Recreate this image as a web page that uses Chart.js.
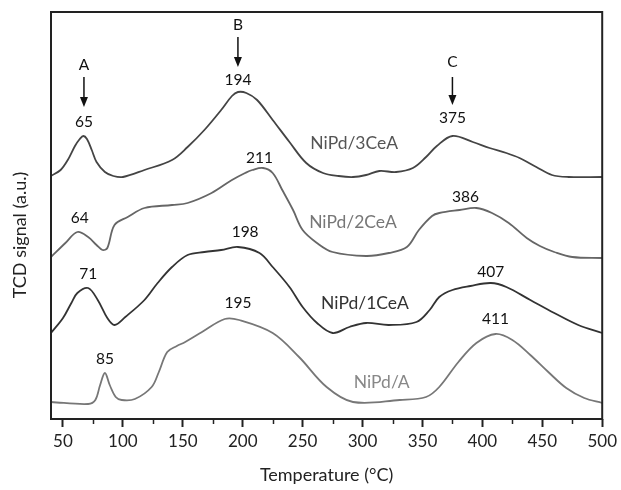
<!DOCTYPE html>
<html>
<head>
<meta charset="utf-8">
<script src="https://cdn.jsdelivr.net/npm/chart.js@4.4.1/dist/chart.umd.min.js"></script>
<style>
  html, body { margin: 0; padding: 0; background: #fff; }
</style>
</head>
<body>
<canvas id="tprChart" width="621" height="490"></canvas>
<script>
// TPR profiles, signal (arbitrary units, curves already offset)
const temp3CeA = [40, 48, 54, 60, 64, 67, 70, 74, 78, 85, 92, 100, 118, 141, 154, 168, 182, 191, 196, 203, 212, 225, 239, 253, 267, 280, 292, 303, 314, 328, 342, 353, 362, 375, 392, 406, 420, 431, 445, 458, 472, 500];
const tcd3CeA  = [243, 249, 259, 273, 280, 283, 280, 269, 257, 247, 243, 242, 249, 259, 272, 289, 309, 323, 327, 326, 319, 299, 277, 256, 246, 243, 242, 244, 248, 247, 251, 262, 273, 283, 277, 271, 266, 261, 252, 244, 242, 242];

const temp2CeA = [40, 52, 62, 71, 78, 83, 87, 93, 104, 118, 141, 154, 174, 191, 202, 208, 217, 225, 233, 242, 250, 262, 275, 303, 322, 337, 347, 358, 364, 381, 395, 408, 422, 437, 448, 460, 475, 500];
const tcd2CeA  = [162, 176, 187, 182, 174, 169, 171, 194, 202, 211, 214, 216, 226, 239, 246, 249, 251, 246, 229, 209, 189, 176, 167, 163, 166, 172, 189, 203, 206, 209, 211, 206, 196, 181, 173, 167, 162, 161];

const temp1CeA = [40, 50, 57, 62, 71, 79, 87, 93, 102, 118, 129, 141, 154, 168, 182, 196, 214, 225, 239, 250, 262, 275, 289, 303, 322, 345, 356, 364, 375, 390, 407, 420, 440, 460, 480, 500];
const tcd1CeA  = [86, 101, 116, 126, 131, 119, 101, 94, 102, 119, 136, 152, 164, 167, 169, 172, 166, 152, 132, 112, 96, 86, 92, 96, 94, 97, 109, 122, 129, 133, 136, 132, 119, 106, 94, 86];

const tempA = [40, 71, 77, 81, 85, 89, 94, 99, 110, 124, 130, 137, 145, 152, 166, 185, 197, 225, 247, 270, 292, 331, 353, 364, 380, 395, 411, 425, 440, 455, 470, 485, 500];
const tcdA  = [17, 15, 19, 34, 46, 34, 22, 19, 20, 32, 47, 67, 73, 77, 87, 100, 99, 86, 62, 32, 17, 19, 22, 32, 57, 76, 85, 79, 64, 47, 31, 21, 16];

const seriesNames = ['NiPd/3CeA', 'NiPd/2CeA', 'NiPd/1CeA', 'NiPd/A'];
const peakTexts = ['65', '194', '375', '64', '211', '386', '71', '198', '407', '85', '195', '411'];
const regionNames = ['A', 'B', 'C'];

const xTicks = [50, 100, 150, 200, 250, 300, 350, 400, 450, 500];
const xMinorTicks = [75, 125, 175, 225, 275, 325, 375, 425, 475];

const FONT = 'Lato, "Open Sans", sans-serif';

function toPoints(temps, vals) {
    return temps.map((t, i) => ({ x: t, y: vals[i] }));
}

// where the annotation texts sit, in data units (temperature, signal)
const peakPos = [
    [67.5, 297], [196, 339], [375, 301],
    [64, 201], [214, 261], [386, 222],
    [71, 145], [202, 187], [407, 147],
    [85, 60], [196, 116], [411, 100]
];
const namePos = [[293, 276], [292, 197], [302, 116], [316, 37]];
const nameColors = ['#555', '#777', '#333', '#888'];
const arrowPos = [
    { t: 67.5, letter: 354, from: 342, to: 312 },
    { t: 196, letter: 394, from: 382, to: 352 },
    { t: 375, letter: 357, from: 342, to: 314 }
];

const annotate = {
    id: 'annotate',
    afterDraw(chart) {
        const { ctx, chartArea: a, scales: { x, y } } = chart;
        ctx.save();

        // frame
        ctx.strokeStyle = '#222';
        ctx.lineWidth = 2;
        ctx.strokeRect(a.left, a.top, a.right - a.left, a.bottom - a.top);

        // minor ticks
        ctx.lineWidth = 1.5;
        xMinorTicks.forEach(v => {
            const px = Math.round(x.getPixelForValue(v)) + 0.5;
            ctx.beginPath();
            ctx.moveTo(px, a.bottom);
            ctx.lineTo(px, a.bottom + 5);
            ctx.stroke();
        });

        ctx.textAlign = 'center';
        ctx.textBaseline = 'middle';

        // peak temperatures
        ctx.fillStyle = '#111';
        ctx.font = '15.5px ' + FONT;
        peakTexts.forEach((txt, i) => {
            ctx.fillText(txt, x.getPixelForValue(peakPos[i][0]), y.getPixelForValue(peakPos[i][1]));
        });

        // sample names
        ctx.font = '17.5px ' + FONT;
        seriesNames.forEach((name, i) => {
            ctx.fillStyle = nameColors[i];
            ctx.fillText(name, x.getPixelForValue(namePos[i][0]), y.getPixelForValue(namePos[i][1]));
        });

        // region arrows A, B, C
        ctx.fillStyle = '#111';
        ctx.strokeStyle = '#111';
        ctx.font = '15.5px ' + FONT;
        arrowPos.forEach((ar, i) => {
            const px = x.getPixelForValue(ar.t);
            ctx.fillText(regionNames[i], px, y.getPixelForValue(ar.letter));
            const y0 = y.getPixelForValue(ar.from);
            const y1 = y.getPixelForValue(ar.to);
            ctx.lineWidth = 1.5;
            ctx.beginPath();
            ctx.moveTo(px, y0);
            ctx.lineTo(px, y1 - 8);
            ctx.stroke();
            ctx.beginPath();
            ctx.moveTo(px - 4, y1 - 10);
            ctx.lineTo(px + 4, y1 - 10);
            ctx.lineTo(px, y1);
            ctx.closePath();
            ctx.fill();
        });

        // y axis title
        ctx.translate(20, 235);
        ctx.rotate(-Math.PI / 2);
        ctx.fillStyle = '#222';
        ctx.font = '18px ' + FONT;
        ctx.fillText('TCD signal (a.u.)', 0, 0);

        ctx.restore();
    }
};

const ctx = document.getElementById('tprChart').getContext('2d');

new Chart(ctx, {
    type: 'line',
    data: {
        datasets: [
            { label: seriesNames[0], data: toPoints(temp3CeA, tcd3CeA), borderColor: '#444' },
            { label: seriesNames[1], data: toPoints(temp2CeA, tcd2CeA), borderColor: '#666' },
            { label: seriesNames[2], data: toPoints(temp1CeA, tcd1CeA), borderColor: '#333' },
            { label: seriesNames[3], data: toPoints(tempA, tcdA), borderColor: '#777' }
        ]
    },
    options: {
        responsive: false,
        animation: false,
        layout: { padding: { left: 51, right: 16, top: 12, bottom: 0 } },
        elements: {
            point: { radius: 0 },
            line: { borderWidth: 1.8, tension: 0.35, fill: false }
        },
        scales: {
            x: {
                type: 'linear',
                min: 40,
                max: 500,
                afterBuildTicks: scale => {
                    scale.ticks = xTicks.map(v => ({ value: v }));
                },
                afterFit: scale => {
                    scale.height = 71;
                },
                grid: {
                    drawOnChartArea: false,
                    drawTicks: true,
                    tickLength: 8,
                    tickColor: '#222',
                    tickWidth: 2
                },
                border: { display: false },
                ticks: {
                    color: '#222',
                    font: { family: FONT, size: 17 },
                    padding: 4,
                    maxRotation: 0,
                    autoSkip: false
                },
                title: {
                    display: true,
                    text: 'Temperature (°C)',
                    color: '#222',
                    font: { family: FONT, size: 18 },
                    padding: { top: 0, bottom: 4 }
                }
            },
            y: {
                display: false,
                min: 0,
                max: 407
            }
        },
        plugins: {
            legend: { display: false },
            tooltip: { enabled: false }
        }
    },
    plugins: [annotate]
});
</script>
</body>
</html>
